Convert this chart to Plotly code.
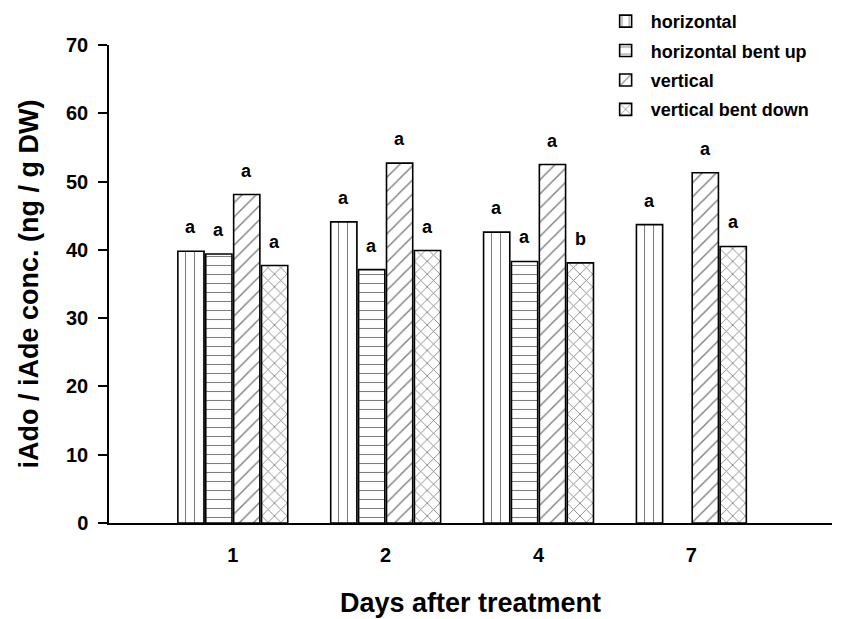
import plotly.graph_objects as go

days = ["1", "2", "4", "7"]
series_names = ["horizontal", "horizontal bent up", "vertical", "vertical bent down"]
horizontal = [39.8, 44.1, 42.6, 43.7]
horizontal_bent_up = [39.4, 37.1, 38.3, None]
vertical = [48.1, 52.7, 52.5, 51.3]
vertical_bent_down = [37.7, 39.9, 38.1, 40.5]
letters_h = ["a", "a", "a", "a"]
letters_hbu = ["a", "a", "a", ""]
letters_v = ["a", "a", "a", "a"]
letters_vbd = ["a", "a", "b", "a"]

values = [horizontal, horizontal_bent_up, vertical, vertical_bent_down]
letters = [letters_h, letters_hbu, letters_v, letters_vbd]
shapes = ["|", "-", "/", "x"]
sizes = [9, 9, 10, 9]
solid = [0.12, 0.12, 0.14, 0.18]

FONT = "Liberation Sans, Arial, sans-serif"
BARGAP = 0.27
xpos = list(range(len(days)))
ntr = len(series_names)
slot = (1 - BARGAP) / ntr

fig = go.Figure()
annotations = []
for i, (name, vals, txt, shp, sz, so) in enumerate(zip(series_names, values, letters, shapes, sizes, solid)):
    fig.add_trace(go.Bar(
        x=xpos, y=vals, name="<b>%s</b>" % name, legendgroup="g%d" % i,
        marker=dict(color="white",
                    line=dict(color="black", width=1.6),
                    pattern=dict(shape=shp, fgcolor="black", bgcolor="white",
                                 size=sz, solidity=so, fillmode="overlay")),
    ))
    off = (i - (ntr - 1) / 2) * slot
    for xp, v, t in zip(xpos, vals, txt):
        if v is None or not t:
            continue
        annotations.append(dict(x=xp + off, y=v, text="<b>%s</b>" % t,
                                showarrow=False, xanchor="center", yanchor="bottom",
                                yshift=12, font=dict(family=FONT, size=18, color="black")))

fig.update_layout(
    width=846, height=619,
    paper_bgcolor="white", plot_bgcolor="white",
    margin=dict(l=109, r=14, t=45, b=96, autoexpand=False),
    barmode="group", bargap=BARGAP, bargroupgap=0.06,
    font=dict(family=FONT, color="black"),
    annotations=annotations,
    legend=dict(x=0.68, y=1.088, xanchor="left", yanchor="top",
                font=dict(family=FONT, size=18, color="black"),
                bgcolor="rgba(0,0,0,0)", itemwidth=40, tracegroupgap=3),
    xaxis=dict(range=[-0.81, 3.92], tickvals=xpos,
               ticktext=["<b>%s</b>" % d for d in days],
               tickfont=dict(size=20), showline=True, linecolor="black",
               linewidth=2, ticks="", showgrid=False, zeroline=False,
               ticklabelstandoff=13, automargin=False,
               title=dict(text="<b>Days after treatment</b>",
                          font=dict(size=27), standoff=28)),
    yaxis=dict(range=[0, 70], tickvals=list(range(0, 71, 10)),
               ticktext=["<b>%d</b>" % v for v in range(0, 71, 10)],
               tickfont=dict(size=20), showline=True, linecolor="black",
               linewidth=1.5, ticks="outside", ticklen=9, tickwidth=1.5,
               tickcolor="black", showgrid=False, zeroline=False,
               ticklabelstandoff=6, automargin=False,
               title=dict(text="<b>iAdo / iAde conc. (ng / g DW)</b>",
                          font=dict(size=27), standoff=20)),
)

fig.write_html("out.html")
